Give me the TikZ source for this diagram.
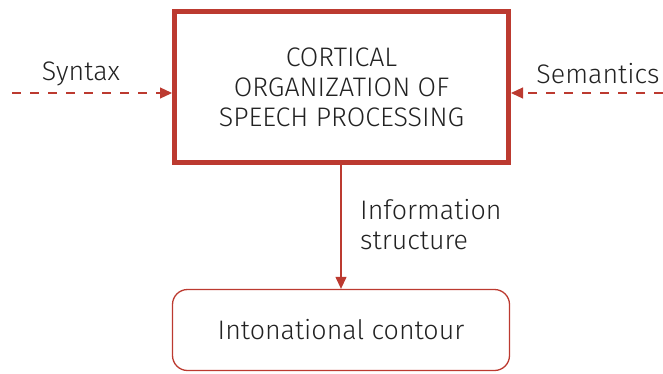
\documentclass[tikz,border=0pt]{standalone}
\usepackage{fontspec}
\setmainfont{Fira Sans}[UprightFont={* Light}]
\usetikzlibrary{arrows.meta}
\definecolor{dred}{HTML}{BC3A30}
\definecolor{txt}{HTML}{222222}
\begin{document}
\begin{tikzpicture}[x=1pt,y=-1pt,
  lbl/.style={text=txt,font=\fontsize{26.8}{30}\selectfont,inner sep=0pt},
  arr/.style={-{Triangle[length=12pt,width=11pt]},dred,line width=1.2pt},
  dsh/.style={arr,dash pattern=on 9pt off 9pt}]
\useasboundingbox (0,0) rectangle (663,373);
\node[draw=dred,line width=5pt,minimum width=334pt,minimum height=151pt,inner sep=0pt,
  align=center,lbl] (main) at (341.5,87) {CORTICAL\\ORGANIZATION OF\\SPEECH PROCESSING};
\node[draw=dred,line width=1.3pt,rounded corners=15pt,minimum width=337pt,minimum height=81pt,
  lbl] (into) at (341,330) {Intonational contour};
\coordinate (sl) at (12,93);
\coordinate (sr) at (663,93);
\draw[dsh] (sl) -- (main.west |- sl);
\draw[dsh] (sr) -- (main.east |- sr);
\draw[arr] (341,165) -- (into.north);
\node[lbl] (syn) at (81,74) {Syntax};
\node[lbl] (sem) at (598,74) {Semantics};
\node[lbl,anchor=west,align=left] (info) at (360,225) {Information\\structure};
\end{tikzpicture}
\end{document}
